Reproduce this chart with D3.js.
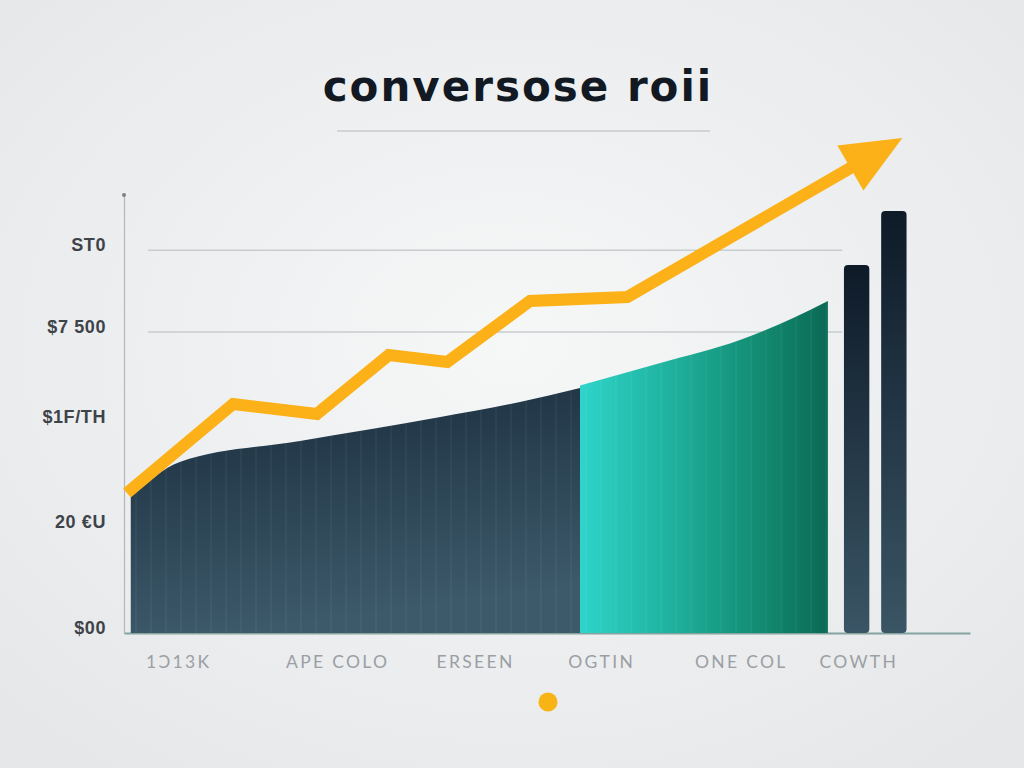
<!DOCTYPE html>
<html>
<head>
<meta charset="utf-8">
<script src="https://cdn.jsdelivr.net/npm/d3@7"></script>
<style>
  html, body { margin: 0; padding: 0; background: #eceef0; }
  svg { display: block; }
</style>
</head>
<body>
<svg id="chart"></svg>
<script>
const width = 1024, height = 768;

// chart data
const title = 'conversose roii';
const xLabels = ['1Ɔ13K', 'APE COLO', 'ERSEEN', 'OGTIN', 'ONE COL', 'COWTH'];
const xLabelPos = [6.4, 25.2, 41.5, 56.4, 72.9, 86.8];
const yTicks = [0, 2400, 4800, 6870, 8740];
const yTickLabels = ['$00', '20 €U', '$1F/TH', '$7 500', 'ST0'];
const gridTicks = [6870, 8740];
const darkX = [0.8, 6.6, 20.8, 37.4, 46.8, 53.9];
const darkY = [3105, 3904, 4384, 4932, 5274, 5594];
const tealX = [53.9, 63.4, 72.8, 79.1, 83.2];
const tealY = [5650, 6164, 6689, 7192, 7580];
const barX = [86.6, 91.0];
const barY = [8402, 9635];
const lineX = [0.35, 12.9, 22.8, 31.3, 38.2, 48.0, 59.5, 92.0];
const lineY = [3196, 5228, 5000, 6347, 6187, 7580, 7671, 11301];

const x = d3.scaleLinear().domain([0, 100]).range([124, 970]);
const y = d3.scaleLinear().domain([0, 10000]).range([633, 195]);

const svg = d3.select('#chart').attr('width', width).attr('height', height);
const defs = svg.append('defs');

// gradients
const bg = defs.append('radialGradient').attr('id', 'bg')
    .attr('cx', '50%').attr('cy', '45%').attr('r', '70%');
bg.append('stop').attr('offset', '0%').attr('stop-color', '#f6f7f7');
bg.append('stop').attr('offset', '100%').attr('stop-color', '#e5e7e9');

const darkG = defs.append('linearGradient').attr('id', 'darkG')
    .attr('x1', 0).attr('y1', 0).attr('x2', 0.25).attr('y2', 1);
darkG.append('stop').attr('offset', '0%').attr('stop-color', '#192c3d');
darkG.append('stop').attr('offset', '100%').attr('stop-color', '#3d5a6a');

const tealG = defs.append('linearGradient').attr('id', 'tealG')
    .attr('x1', 0).attr('y1', 0).attr('x2', 1).attr('y2', 0);
tealG.append('stop').attr('offset', '0%').attr('stop-color', '#2fd4ca');
tealG.append('stop').attr('offset', '35%').attr('stop-color', '#1fb3a0');
tealG.append('stop').attr('offset', '75%').attr('stop-color', '#12896f');
tealG.append('stop').attr('offset', '100%').attr('stop-color', '#0a6955');

const barG = defs.append('linearGradient').attr('id', 'barG')
    .attr('x1', 0).attr('y1', 0).attr('x2', 0).attr('y2', 1);
barG.append('stop').attr('offset', '0%').attr('stop-color', '#0e1a28');
barG.append('stop').attr('offset', '100%').attr('stop-color', '#3a5565');

const stripes = defs.append('pattern').attr('id', 'stripes')
    .attr('patternUnits', 'userSpaceOnUse').attr('width', 15).attr('height', 10);
stripes.append('rect').attr('width', 2).attr('height', 10)
    .attr('fill', '#ffffff').attr('opacity', 0.035);

svg.append('rect').attr('width', width).attr('height', height).attr('fill', 'url(#bg)');

// title
svg.append('text')
    .attr('x', 518).attr('y', 101)
    .attr('text-anchor', 'middle')
    .style('font-family', '"DejaVu Sans", sans-serif')
    .style('font-weight', 700)
    .style('font-size', '42px')
    .style('letter-spacing', '2px')
    .style('fill', '#121923')
    .text(title);
svg.append('line')
    .attr('x1', 337).attr('x2', 710).attr('y1', 131).attr('y2', 131)
    .attr('stroke', '#d2d5d8').attr('stroke-width', 2);

// grid
svg.append('g').selectAll('line')
    .data(gridTicks)
    .enter()
    .append('line')
    .attr('x1', x(2.84)).attr('x2', x(84.9))
    .attr('y1', d => y(d)).attr('y2', d => y(d))
    .attr('stroke', '#c9cccf').attr('stroke-width', 1.5);

// axes
const yAxis = d3.axisLeft(y).tickValues(yTicks)
    .tickFormat((d, i) => yTickLabels[i])
    .tickSize(0).tickPadding(18);
const gy = svg.append('g').attr('transform', `translate(${x(0)},0)`).call(yAxis);
gy.select('.domain').attr('stroke', '#b3b7bb').attr('stroke-width', 1.2);
gy.selectAll('text')
    .attr('dy', '0')
    .style('font-family', '"Liberation Sans", Arial, sans-serif')
    .style('font-weight', 700)
    .style('font-size', '18px')
    .style('letter-spacing', '0.6px')
    .style('fill', '#3e4349');
svg.append('circle').attr('cx', x(0)).attr('cy', y(10000)).attr('r', 2).attr('fill', '#7d8287');

const xAxis = d3.axisBottom(x).tickValues(xLabelPos)
    .tickFormat((d, i) => xLabels[i])
    .tickSize(0).tickSizeOuter(0).tickPadding(23);
const gx = svg.append('g').attr('transform', `translate(0,${y(0)})`).call(xAxis);
gx.select('.domain').attr('stroke', '#86a49f').attr('stroke-width', 2);
gx.selectAll('text')
    .style('font-family', 'Lato, "Open Sans", sans-serif')
    .style('font-size', '17.5px')
    .style('letter-spacing', '2.3px')
    .style('fill', '#9b9fa4');

// areas
const darkData = darkX.map((d, i) => [d, darkY[i]]);
const tealData = tealX.map((d, i) => [d, tealY[i]]);
const area = d3.area()
    .x(d => x(d[0]))
    .y0(y(0))
    .y1(d => y(d[1]))
    .curve(d3.curveMonotoneX);

svg.append('path').datum(darkData).attr('d', area).attr('fill', 'url(#darkG)');
svg.append('path').datum(darkData).attr('d', area).attr('fill', 'url(#stripes)');
svg.append('path').datum(tealData).attr('d', area).attr('fill', 'url(#tealG)');
svg.append('path').datum(tealData).attr('d', area).attr('fill', 'url(#stripes)');

// bars
const barW = x(3) - x(0);
svg.append('g').selectAll('rect')
    .data(barX)
    .enter()
    .append('rect')
    .attr('x', d => x(d) - barW / 2)
    .attr('y', (d, i) => y(barY[i]))
    .attr('width', barW)
    .attr('height', (d, i) => y(0) - y(barY[i]))
    .attr('rx', 4)
    .attr('fill', 'url(#barG)');

// growth arrow
const pts = lineX.map((d, i) => [x(d), y(lineY[i])]);
const tip = pts[pts.length - 1], prev = pts[pts.length - 2];
const dx = tip[0] - prev[0], dy = tip[1] - prev[1];
const len = Math.hypot(dx, dy);
const ux = dx / len, uy = dy / len;
const headL = 60, headW = 26;
const base = [tip[0] - ux * headL, tip[1] - uy * headL];
const shaft = pts.slice(0, -1).concat([[base[0] + ux * 8, base[1] + uy * 8]]);

svg.append('path')
    .datum(shaft)
    .attr('d', d3.line())
    .attr('fill', 'none')
    .attr('stroke', '#fbb117')
    .attr('stroke-width', 12)
    .attr('stroke-linejoin', 'miter');

svg.append('path')
    .attr('d', d3.line()([
        tip,
        [base[0] - uy * headW, base[1] + ux * headW],
        [base[0] + uy * headW, base[1] - ux * headW]
    ]) + 'Z')
    .attr('fill', '#fbb117');

// dot below the labels
svg.append('circle').attr('cx', 548).attr('cy', 702).attr('r', 9.5).attr('fill', '#f8b414');
</script>
</body>
</html>
